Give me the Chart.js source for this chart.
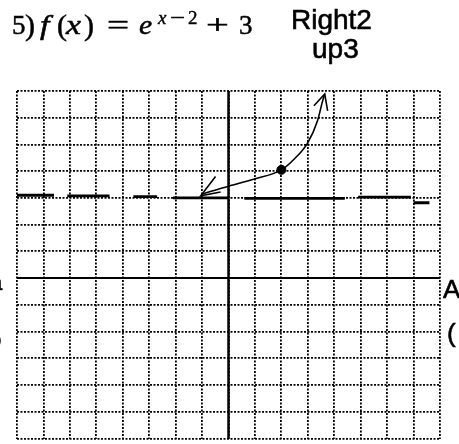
<!DOCTYPE html>
<html>
<head>
<meta charset="utf-8">
<script src="https://cdn.jsdelivr.net/npm/chart.js@4"></script>
<style>
  html, body { margin: 0; padding: 0; background: #fff; }
  #wrap { position: relative; width: 459px; height: 444px; overflow: hidden; }
  #grafico { position: absolute; left: 0; top: 0; }
  .txt { position: absolute; white-space: nowrap; color: #000; line-height: 1; transform-origin: left; }
  .mat { font-family: "Liberation Serif", serif; font-size: 27px; top: 12px; -webkit-text-stroke: 0.5px #000; }
  .mat i { font-style: italic; }
  .par { font-size: 30px; top: 10px; }
  .sup { font-family: "Liberation Serif", serif; font-size: 19px; top: 8px; -webkit-text-stroke: 0.4px #000; }
  .mao { font-family: "Liberation Sans", sans-serif; font-size: 28px; -webkit-text-stroke: 0.6px #000; }
</style>
</head>
<body>
<div id="wrap">
  <canvas id="grafico" width="459" height="444"></canvas>
  <div class="txt mat" style="left:12px;">5</div>
  <div class="txt mat par" style="left:25px;">)</div>
  <div class="txt mat" style="left:40px; transform: scaleX(1.25);"><i>f</i></div>
  <div class="txt mat par" style="left:57px;">(</div>
  <div class="txt mat" style="left:66px; transform: scaleX(1.25);"><i>x</i></div>
  <div class="txt mat par" style="left:84px;">)</div>
  <div class="txt mat" style="left:107px; transform: scaleX(1.45);">=</div>
  <div class="txt mat" style="left:139px; transform: scaleX(1.1);"><i>e</i></div>
  <div class="txt sup" style="left:158px;"><i>x</i></div>
  <div class="txt sup" style="left:170px; transform: scaleX(1.4);">−</div>
  <div class="txt sup" style="left:188px;">2</div>
  <div class="txt mat" style="left:206px; transform: scaleX(1.5);">+</div>
  <div class="txt mat" style="left:239px;">3</div>
  <div class="txt mao" style="left:291px; top:6px;">Right2</div>
  <div class="txt mao" style="left:312px; top:35px;">up3</div>
  <div class="txt mao" style="left:-8px; top:186px; font-size:20px;">-</div>
  <div class="txt mao" style="left:-10px; top:272px; font-size:22px;">a</div>
  <div class="txt mao" style="left:-13px; top:326px; font-size:26px;">o</div>
  <div class="txt mao" style="left:443px; top:276px; font-size:26px;">A</div>
  <div class="txt mao" style="left:447px; top:320px; font-size:26px;">(</div>
</div>
<script>
const xMin = -8, xMax = 8;
const yMin = -6, yMax = 7;

// curva desenhada a mão
const curvaX = [-0.98, 0, 0.95, 2, 2.46, 2.99, 3.37, 3.56, 3.64];
const curvaY = [3.15, 3.44, 3.70, 4.05, 4.43, 5.05, 5.9, 6.63, 6.89];

// ponto marcado
const pontoX = [2];
const pontoY = [4.05];

// pontas de seta
const setaCimaX = [3.23, 3.64, 3.75];
const setaCimaY = [6.45, 6.89, 6.26];
const setaEsqX = [-0.49, -1.05, -0.3];
const setaEsqY = [3.8, 3.08, 3.22];

// assíntota tracejada y = 3 (trechos)
const assintotaIni = [-8, -6.1, -3.6, -2.1, 0.6, 4.9, 7.0];
const assintotaFim = [-6.6, -4.5, -2.7, 0, 4.4, 6.9, 7.6];
const assintotaY = [3.1, 3.08, 3.05, 3.0, 2.98, 3.03, 2.82];

const junta = (xs, ys) => xs.map((x, i) => ({ x, y: ys[i] }));

const assintota = [];
assintotaIni.forEach((ini, i) => {
  assintota.push({ x: ini, y: assintotaY[i] });
  assintota.push({ x: assintotaFim[i], y: assintotaY[i] });
  assintota.push({ x: assintotaFim[i], y: null });
});

const linha = (data, largura, extra = {}) => ({
  type: "line",
  data,
  borderColor: "#000",
  backgroundColor: "#000",
  borderWidth: largura,
  pointRadius: 0,
  fill: false,
  ...extra
});

new Chart(document.getElementById("grafico"), {
  type: "scatter",
  data: {
    datasets: [
      linha([{ x: 0, y: yMin }, { x: 0, y: yMax }], 2.5),
      linha([{ x: xMin, y: 0 }, { x: xMax, y: 0 }], 2),
      linha(assintota, 2.8, { spanGaps: false }),
      linha(junta(curvaX, curvaY), 1.6, { tension: 0.4, cubicInterpolationMode: "monotone" }),
      linha(junta(setaCimaX, setaCimaY), 1.6),
      linha(junta(setaEsqX, setaEsqY), 1.6),
      {
        type: "scatter",
        data: junta(pontoX, pontoY),
        pointStyle: "ellipse",
        pointRadius: 4.5,
        backgroundColor: "#000",
        borderColor: "#000"
      }
    ]
  },
  options: {
    responsive: false,
    animation: false,
    layout: { padding: { left: 17, right: 19, top: 91, bottom: 1 } },
    plugins: { legend: { display: false }, tooltip: { enabled: false } },
    scales: {
      x: {
        type: "linear",
        min: xMin,
        max: xMax,
        ticks: { display: false, stepSize: 1 },
        grid: { color: "#000", lineWidth: 1.8, drawTicks: false },
        border: { display: false, dash: [2, 1.5] }
      },
      y: {
        type: "linear",
        min: yMin,
        max: yMax,
        ticks: { display: false, stepSize: 1 },
        grid: { color: "#000", lineWidth: 1.8, drawTicks: false },
        border: { display: false, dash: [2, 1.5] }
      }
    }
  }
});
</script>
</body>
</html>
